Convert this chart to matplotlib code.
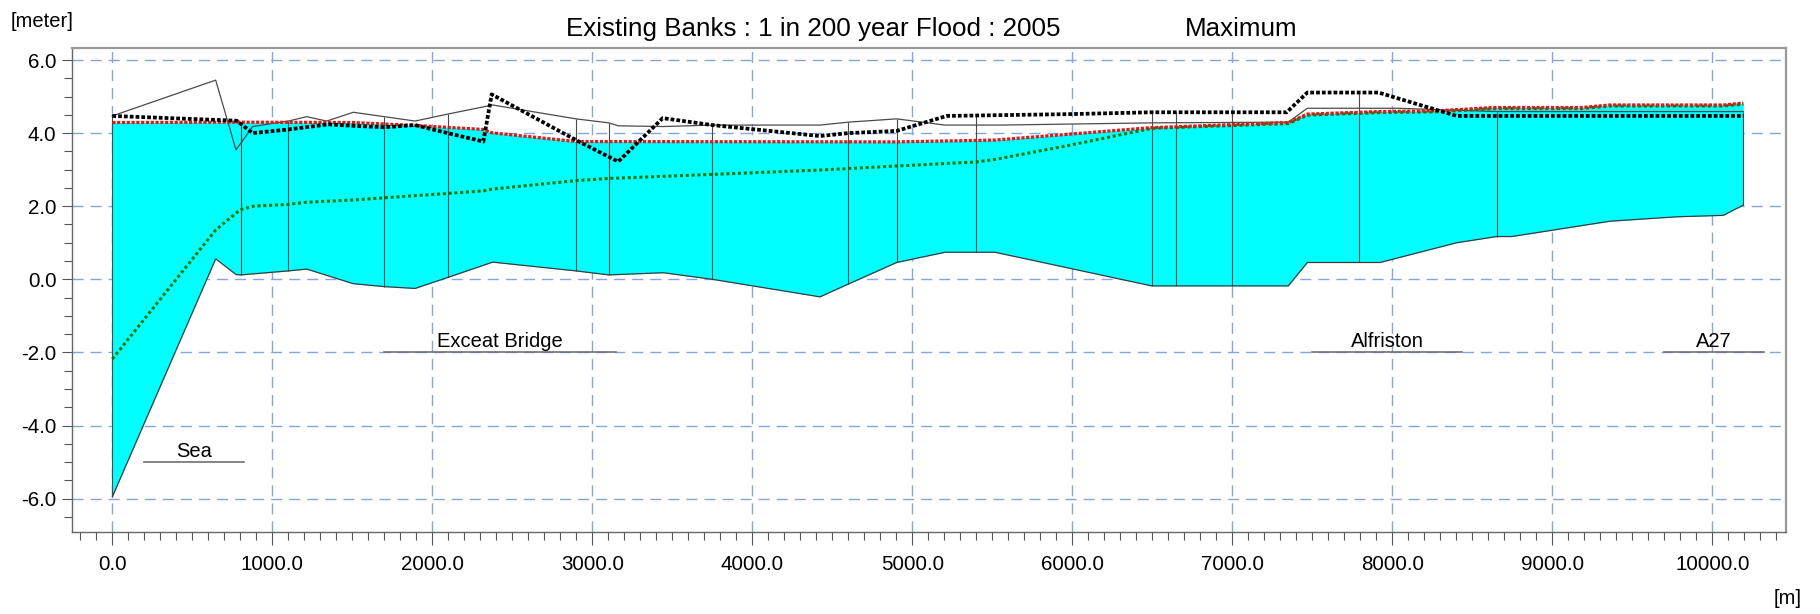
import matplotlib
matplotlib.use("Agg")
import matplotlib.pyplot as plt
import numpy as np
from matplotlib.ticker import MultipleLocator, FormatStrFormatter

plt.rcParams["font.family"] = ["Liberation Sans", "DejaVu Sans"]

# Long section chainage [m] and levels [meter]
bed_x = [0, 646, 773, 802, 1100, 1215, 1506, 1700, 1892, 2096, 2377, 2898, 3104,
         3444, 3750, 4423, 4600, 4902, 5204, 5517, 6496, 7350, 7469, 7923, 8402,
         8652, 8746, 9361, 9777, 10069, 10194]
bed_z = [-5.95, 0.56, 0.13, 0.12, 0.23, 0.28, -0.12, -0.20, -0.25, 0.05, 0.47, 0.23,
         0.12, 0.18, 0.00, -0.48, -0.13, 0.46, 0.74, 0.74, -0.18, -0.18, 0.46, 0.46,
         1.00, 1.17, 1.17, 1.59, 1.71, 1.75, 2.03]

wl_max_x = [0, 777, 1506, 1892, 2319, 2371, 2898, 4902, 5517, 6496, 7350, 7469,
            7923, 8277, 8631, 9184, 9361, 10069, 10194]
wl_max_z = [4.29, 4.30, 4.29, 4.21, 4.10, 4.01, 3.77, 3.76, 3.81, 4.15, 4.29, 4.52,
            4.59, 4.61, 4.70, 4.70, 4.77, 4.77, 4.82]

wl_low_x = [0, 646, 798, 881, 1100, 1215, 1506, 1700, 2096, 2319, 2377, 2898, 3104,
            3750, 4423, 4902, 5398, 5517, 5986, 6496, 7350, 7469, 7923, 8277, 8631,
            9184, 9361, 10069, 10194]
wl_low_z = [-2.18, 1.35, 1.90, 2.00, 2.05, 2.11, 2.17, 2.23, 2.35, 2.42, 2.47, 2.70,
            2.76, 2.87, 2.99, 3.10, 3.21, 3.28, 3.67, 4.13, 4.26, 4.49, 4.56, 4.58,
            4.67, 4.67, 4.74, 4.74, 4.79]

left_bank_x = [0, 777, 877, 1100, 1350, 1506, 1700, 1892, 2096, 2319, 2371, 2898,
               3162, 3440, 3750, 4423, 4600, 4902, 5215, 5986, 6496, 7340, 7469,
               7914, 8402, 10194]
left_bank_z = [4.47, 4.34, 4.00, 4.10, 4.24, 4.20, 4.16, 4.22, 4.00, 3.77, 5.06, 3.81,
               3.22, 4.41, 4.22, 3.92, 4.00, 4.06, 4.47, 4.52, 4.57, 4.57, 5.11,
               5.11, 4.47, 4.47]

right_bank_x = [0, 646, 773, 877, 1100, 1215, 1340, 1506, 1700, 1892, 2096, 2377,
                2898, 3104, 3162, 3444, 3750, 4423, 4600, 4902, 5204, 5548, 6496,
                7350, 7469, 8034, 8652, 10194]
right_bank_z = [4.47, 5.45, 3.54, 4.18, 4.33, 4.45, 4.33, 4.57, 4.45, 4.33, 4.52, 4.77,
                4.39, 4.28, 4.20, 4.18, 4.22, 4.22, 4.30, 4.39, 4.22, 4.22, 4.28,
                4.30, 4.68, 4.68, 4.59, 4.59]

sections = [0, 802, 1100, 1700, 2096, 2898, 3104, 3750, 4600, 4902, 5398, 6500,
            6648, 6996, 7794, 8652, 10194]

places = ["Sea", "Exceat Bridge", "Alfriston", "A27"]
place_start = [200, 1697, 7499, 9696]
place_end = [820, 3147, 8436, 10321]
place_level = [-5.0, -2.0, -2.0, -2.0]

fig = plt.figure(figsize=(18.2, 6.14), dpi=100)
ax = fig.add_axes([71.7 / 1820, 1 - 532.3 / 614, (1785.7 - 71.7) / 1820, (532.3 - 47.7) / 614])

ax.set_xlim(-254, 10459)
ax.set_ylim(-6.922, 6.337)

# water body between bed and maximum water level
xs = np.array(sorted(set(bed_x) | set(wl_max_x)), dtype=float)
top = np.interp(xs, wl_max_x, wl_max_z)
bot = np.interp(xs, bed_x, bed_z)
ax.fill_between(xs, bot, top, color="#00ffff", linewidth=0, zorder=2)

# cross-section markers from bed to the higher bank
sec = np.array(sections, dtype=float)
sec_bot = np.interp(sec, bed_x, bed_z)
sec_top = np.maximum(np.interp(sec, left_bank_x, left_bank_z),
                     np.interp(sec, right_bank_x, right_bank_z))
ax.vlines(sec, sec_bot, sec_top, colors="#4a4a4a", linewidth=0.8, zorder=3)

ax.plot(bed_x, bed_z, color="#3c3c3c", linewidth=0.9, zorder=4)
ax.plot(right_bank_x, right_bank_z, color="#4a4a4a", linewidth=0.9, zorder=4)
ax.plot(wl_low_x, wl_low_z, color="#0e7a0e", linewidth=2.2,
        linestyle=(0, (1, 0.9)), zorder=5)
ax.plot(wl_max_x, wl_max_z, color="#dd1a1a", linewidth=2.3,
        linestyle=(0, (1, 0.5)), zorder=6)
ax.plot(left_bank_x, left_bank_z, color="#000000", linewidth=2.7,
        linestyle=(0, (1, 0.55)), zorder=7)

# place markers
for name, x0, x1, lev in zip(places, place_start, place_end, place_level):
    ax.plot([x0, x1], [lev, lev], color="#707070", linewidth=1.2, zorder=3)
    ax.text((x0 + x1) / 2, lev + 0.14, name, ha="center", va="baseline",
            fontsize=14.5, color="#000000", zorder=8)

# grid
ax.set_axisbelow(True)
ax.xaxis.set_major_locator(MultipleLocator(1000))
ax.xaxis.set_minor_locator(MultipleLocator(100))
ax.yaxis.set_major_locator(MultipleLocator(2.0))
ax.yaxis.set_minor_locator(MultipleLocator(0.5))
ax.xaxis.set_major_formatter(FormatStrFormatter("%.1f"))
ax.yaxis.set_major_formatter(FormatStrFormatter("%.1f"))
ax.grid(which="major", color="#86a4e0", linewidth=1.0, linestyle=(0, (8, 5)))

ax.tick_params(axis="both", which="both", direction="out", color="#555555",
               width=0.8, labelsize=14.8, labelcolor="#000000")
ax.tick_params(axis="y", which="major", length=7.5, pad=3.4)
ax.tick_params(axis="y", which="minor", length=5.5)
ax.tick_params(axis="x", which="major", length=9.6, pad=6.5)
ax.tick_params(axis="x", which="minor", length=6.0)

for side in ("left", "bottom"):
    ax.spines[side].set_color("#666666")
    ax.spines[side].set_linewidth(1.0)
for side in ("top", "right"):
    ax.spines[side].set_color("#999999")
    ax.spines[side].set_linewidth(1.6)

fig.text(566.4 / 1820, 1 - 35.7 / 614, "Existing Banks : 1 in 200 year Flood : 2005",
         fontsize=18.7, ha="left", va="baseline")
fig.text(1185.2 / 1820, 1 - 35.7 / 614, "Maximum", fontsize=18.7, ha="left", va="baseline")
fig.text(10.7 / 1820, 1 - 26.7 / 614, "[meter]", fontsize=14.5, ha="left", va="baseline")
fig.text(1774 / 1820, 1 - 604 / 614, "[m]", fontsize=14.5, ha="left", va="baseline")

fig.savefig("out.png", dpi=100, facecolor="white")
